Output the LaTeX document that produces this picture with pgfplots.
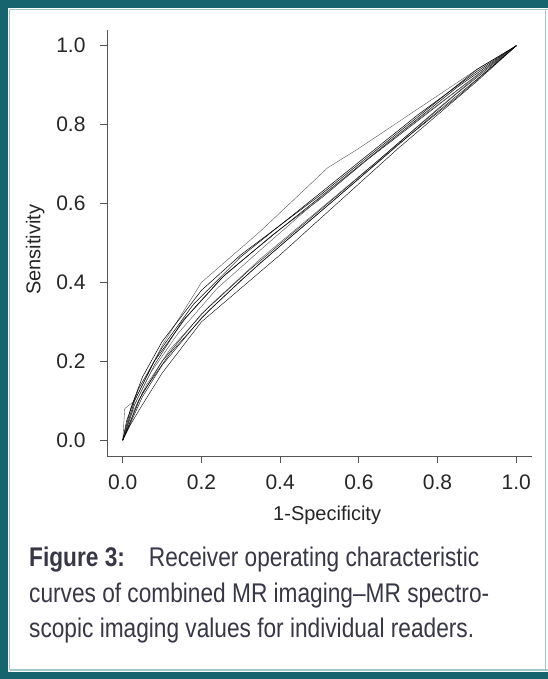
\documentclass[border=0pt]{standalone}
\usepackage{pgfplots}
\pgfplotsset{compat=1.18}
\usepackage{fontspec}
\setmainfont{Liberation Sans}
\newfontfamily\capfont[FakeStretch=0.84]{Liberation Sans}
\definecolor{frameteal}{RGB}{22,100,110}
\definecolor{lightteal}{RGB}{160,200,205}
\definecolor{captxt}{RGB}{55,55,70}
\definecolor{axgray}{RGB}{85,85,85}
\definecolor{curve}{RGB}{85,85,85}
\begin{document}
\begin{tikzpicture}[x=1pt,y=1pt]
\useasboundingbox (0,0) rectangle (548,679);
\fill[white] (0,0) rectangle (548,679);
\fill[frameteal] (0,0) rectangle (8,679);
\fill[frameteal] (0,671) rectangle (548,679);
\fill[frameteal] (0,0) rectangle (548,7);
\draw[lightteal, line width=1.5pt] (9.5,8.5) -- (9.5,670) (9.5,669.5) -- (548,669.5) (9.5,9) -- (548,9) (545.5,9) -- (545.5,669.5);
\begin{axis}[
  at={(107pt,223pt)}, anchor=south west,
  width=425pt, height=426pt, scale only axis,
  xmin=-0.04, xmax=1.04, ymin=-0.04, ymax=1.04,
  axis x line*=bottom, axis y line*=left,
  axis line style={axgray, line width=0.8pt, -},
  tick align=outside, major tick length=7pt,
  tick style={axgray, line width=0.8pt},
  xtick={0,0.2,0.4,0.6,0.8,1.0}, ytick={0,0.2,0.4,0.6,0.8,1.0},
  minor tick num=0,
  /pgf/number format/.cd, fixed, fixed zerofill, precision=1, assume math mode=true,
  /pgfplots/.cd,
  ticklabel style={font=\fontsize{21}{21}\selectfont, text=black!85},
  xticklabel style={yshift=-8pt},
  yticklabel style={xshift=-11pt},
  xlabel={1-Specificity}, ylabel={Sensitivity},
  label style={font=\fontsize{20}{20}\selectfont, text=black!85},
  xlabel style={at={(axis description cs:0.518,-0.1385)}, anchor=center},
  ylabel style={at={(axis description cs:-0.169,0.4836)}, anchor=center},
  cycle list={{curve, solid, line width=0.5pt, mark=none}},
  no markers,
]
% C1 upper outlier with kink
\addplot coordinates {(0,0) (0.005,0.08) (0.03,0.10) (0.1,0.24) (0.2,0.40) (0.35,0.53) (0.52,0.69) (0.6,0.74) (0.75,0.84) (0.9,0.94) (1,1)};
% C2 lowest
\addplot coordinates {(0,0) (0.02,0.04) (0.05,0.09) (0.1,0.17) (0.2,0.30) (0.3,0.385) (0.4,0.47) (0.5,0.56) (0.6,0.65) (0.7,0.74) (0.8,0.825) (0.9,0.91) (1,1)};
% C3 upper main
\addplot coordinates {(0,0) (0.02,0.08) (0.05,0.16) (0.1,0.25) (0.2,0.38) (0.3,0.47) (0.4,0.545) (0.5,0.62) (0.6,0.70) (0.7,0.78) (0.8,0.86) (0.9,0.94) (1,1)};
\addplot coordinates {(0,0) (0.03,0.09) (0.08,0.19) (0.15,0.30) (0.25,0.41) (0.38,0.52) (0.5,0.61) (0.62,0.71) (0.75,0.81) (0.88,0.91) (1,1)};
\addplot coordinates {(0,0) (0.02,0.06) (0.06,0.14) (0.12,0.23) (0.22,0.34) (0.35,0.46) (0.5,0.585) (0.65,0.71) (0.8,0.84) (0.92,0.94) (1,1)};
\addplot coordinates {(0,0) (0.04,0.10) (0.1,0.20) (0.2,0.32) (0.32,0.43) (0.45,0.54) (0.58,0.65) (0.72,0.77) (0.85,0.88) (1,1)};
\addplot coordinates {(0,0) (0.03,0.10) (0.08,0.20) (0.16,0.31) (0.26,0.42) (0.4,0.535) (0.55,0.655) (0.7,0.775) (0.85,0.895) (1,1)};
\addplot coordinates {(0,0) (0.05,0.12) (0.12,0.22) (0.22,0.33) (0.35,0.45) (0.48,0.56) (0.62,0.68) (0.76,0.80) (0.9,0.915) (1,1)};
\addplot coordinates {(0,0) (0.02,0.07) (0.07,0.17) (0.14,0.27) (0.24,0.385) (0.37,0.50) (0.52,0.63) (0.68,0.76) (0.84,0.88) (1,1)};
\addplot coordinates {(0,0) (0.05,0.11) (0.1,0.19) (0.2,0.31) (0.3,0.405) (0.42,0.51) (0.55,0.62) (0.7,0.75) (0.85,0.87) (1,1)};
\addplot coordinates {(0,0) (0.01,0.05) (0.04,0.13) (0.1,0.235) (0.18,0.345) (0.3,0.465) (0.45,0.585) (0.6,0.705) (0.75,0.825) (0.9,0.935) (1,1)};
\end{axis}
\node[anchor=base west, inner sep=0pt, text=captxt] at (29,112) {\capfont\fontsize{27}{27}\selectfont\bfseries Figure 3:\hspace{24pt}\mdseries Receiver operating characteristic};
\node[anchor=base west, inner sep=0pt, text=captxt] at (29,76) {\capfont\fontsize{27}{27}\selectfont curves of combined MR imaging–MR spectro-};
\node[anchor=base west, inner sep=0pt, text=captxt] at (29,41) {\capfont\fontsize{27}{27}\selectfont scopic imaging values for individual readers.};
\end{tikzpicture}
\end{document}
